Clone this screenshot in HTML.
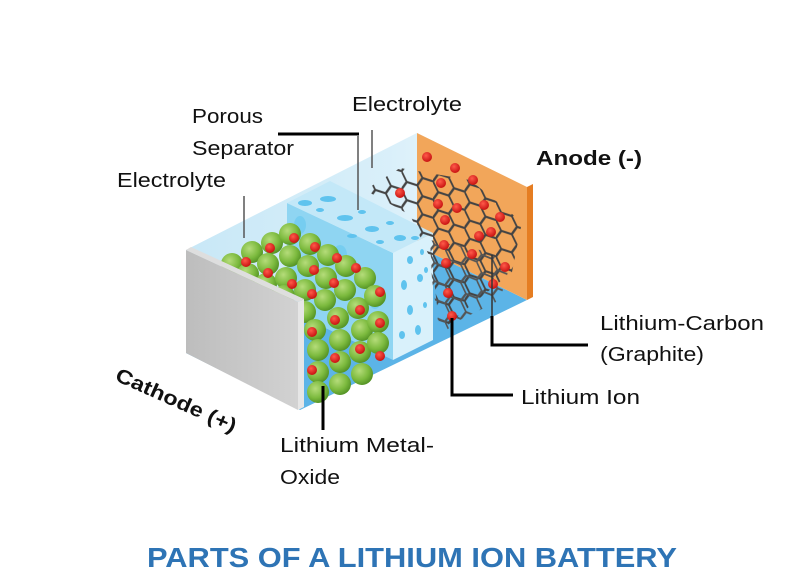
<!DOCTYPE html>
<html><head><meta charset="utf-8"><style>
html,body{margin:0;padding:0;background:#fff;}
svg{display:block;}
text{font-family:"Liberation Sans",sans-serif;fill:#111;}
</style></head><body>
<svg width="804" height="586" viewBox="0 0 804 586" xmlns="http://www.w3.org/2000/svg">
<defs>
<linearGradient id="top" x1="0" y1="0" x2="1" y2="0">
<stop offset="0" stop-color="#bfe4f5"/><stop offset="0.6" stop-color="#d6eef9"/><stop offset="1" stop-color="#ffffff"/></linearGradient>
<linearGradient id="cath" x1="0" y1="0" x2="1" y2="0">
<stop offset="0" stop-color="#bdbdbd"/><stop offset="1" stop-color="#d2d2d2"/></linearGradient>
<radialGradient id="ball" cx="0.38" cy="0.35" r="0.7">
<stop offset="0" stop-color="#b5dc7a"/><stop offset="0.6" stop-color="#7cba3e"/><stop offset="1" stop-color="#4f8e22"/></radialGradient>
<radialGradient id="red" cx="0.4" cy="0.35" r="0.7">
<stop offset="0" stop-color="#ff5a4a"/><stop offset="1" stop-color="#c40d0d"/></radialGradient>
<pattern id="hex" width="30" height="17.32" patternUnits="userSpaceOnUse" patternTransform="translate(370,170) skewY(18) scale(1.05)">
<path d="M0,8.66 L5,0 L15,0 L20,8.66 L15,17.32 L5,17.32 Z M20,8.66 L30,8.66" fill="none" stroke="#444" stroke-width="2"/>
</pattern>
<pattern id="hex2" width="30" height="17.32" patternUnits="userSpaceOnUse" patternTransform="translate(382,178) skewY(22) scale(1.05)">
<path d="M0,8.66 L5,0 L15,0 L20,8.66 L15,17.32 L5,17.32 Z M20,8.66 L30,8.66" fill="none" stroke="#555" stroke-width="1.8"/>
</pattern>
<clipPath id="hexclip"><polygon points="365,190 400,168 470,180 522,222 512,272 470,306 440,332 432,262 410,215"/></clipPath>
<clipPath id="hexclip2"><polygon points="430,240 480,250 510,265 500,300 460,320 440,335 432,280"/></clipPath>
</defs>

<polygon points="186,250 417,133 417,246 186,353" fill="#e3f3fb"/>
<polygon points="186,353 417,246 527,300 300,410" fill="#5cb4e7"/>
<polygon points="186,250 417,133 527,187 298,302" fill="url(#top)" opacity="0.75"/>
<polygon points="417,133 527,187 527,300 417,246" fill="#f2a65a"/>
<polygon points="527,187 533,184 533,297 527,300" fill="#e57d22"/>

<polygon points="287,203 393,253 393,360 287,310" fill="#8fd5f2"/>
<polygon points="287,203 330,181 433,233 393,253" fill="#c3e8f8"/>
<polygon points="393,253 433,233 433,340 393,360" fill="#d9f1fb"/>
<g fill="#5fc3ee">
<ellipse cx="305" cy="203" rx="7" ry="3"/><ellipse cx="328" cy="199" rx="8" ry="3"/><ellipse cx="320" cy="210" rx="4" ry="2"/>
<ellipse cx="345" cy="218" rx="8" ry="3"/><ellipse cx="362" cy="212" rx="4" ry="2"/><ellipse cx="372" cy="229" rx="7" ry="3"/>
<ellipse cx="390" cy="223" rx="4" ry="2"/><ellipse cx="400" cy="238" rx="6" ry="3"/><ellipse cx="380" cy="242" rx="4" ry="2"/>
<ellipse cx="415" cy="238" rx="4" ry="2"/><ellipse cx="352" cy="236" rx="5" ry="2"/>
<ellipse cx="410" cy="260" rx="3" ry="4"/><ellipse cx="422" cy="252" rx="2" ry="3"/><ellipse cx="404" cy="285" rx="3" ry="5"/>
<ellipse cx="420" cy="278" rx="3" ry="4"/><ellipse cx="410" cy="310" rx="3" ry="5"/><ellipse cx="425" cy="305" rx="2" ry="3"/>
<ellipse cx="402" cy="335" rx="3" ry="4"/><ellipse cx="418" cy="330" rx="3" ry="5"/><ellipse cx="426" cy="270" rx="2" ry="3"/>
</g>
<g fill="#6ccaf0" opacity="0.7">
<ellipse cx="300" cy="225" rx="6" ry="9"/><ellipse cx="340" cy="255" rx="7" ry="10"/><ellipse cx="375" cy="300" rx="6" ry="9"/>
</g>

<rect x="360" y="160" width="170" height="180" fill="url(#hex)" clip-path="url(#hexclip)"/>
<rect x="360" y="160" width="170" height="180" fill="url(#hex2)" clip-path="url(#hexclip2)"/>

<g fill="url(#ball)">
<circle cx="232" cy="264" r="11"/><circle cx="252" cy="252" r="11"/><circle cx="272" cy="243" r="11"/><circle cx="290" cy="234" r="11"/>
<circle cx="248" cy="274" r="11"/><circle cx="268" cy="264" r="11"/><circle cx="290" cy="256" r="11"/><circle cx="310" cy="244" r="11"/>
<circle cx="266" cy="284" r="11"/><circle cx="286" cy="278" r="11"/><circle cx="308" cy="266" r="11"/><circle cx="328" cy="255" r="11"/>
<circle cx="284" cy="296" r="11"/><circle cx="305" cy="290" r="11"/><circle cx="326" cy="278" r="11"/><circle cx="346" cy="266" r="11"/>
<circle cx="305" cy="312" r="11"/><circle cx="325" cy="300" r="11"/><circle cx="345" cy="290" r="11"/><circle cx="365" cy="278" r="11"/>
<circle cx="315" cy="330" r="11"/><circle cx="338" cy="318" r="11"/><circle cx="358" cy="308" r="11"/><circle cx="375" cy="296" r="11"/>
<circle cx="318" cy="350" r="11"/><circle cx="340" cy="340" r="11"/><circle cx="362" cy="330" r="11"/><circle cx="378" cy="322" r="11"/>
<circle cx="318" cy="372" r="11"/><circle cx="340" cy="362" r="11"/><circle cx="360" cy="352" r="11"/><circle cx="378" cy="343" r="11"/>
<circle cx="318" cy="392" r="11"/><circle cx="340" cy="384" r="11"/><circle cx="362" cy="374" r="11"/>
</g>
<g fill="url(#red)">
<circle cx="246" cy="262" r="5"/><circle cx="270" cy="248" r="5"/><circle cx="294" cy="238" r="5"/><circle cx="315" cy="247" r="5"/>
<circle cx="268" cy="273" r="5"/><circle cx="292" cy="284" r="5"/><circle cx="314" cy="270" r="5"/><circle cx="337" cy="258" r="5"/>
<circle cx="356" cy="268" r="5"/><circle cx="312" cy="294" r="5"/><circle cx="334" cy="283" r="5"/><circle cx="380" cy="292" r="5"/>
<circle cx="312" cy="332" r="5"/><circle cx="335" cy="320" r="5"/><circle cx="360" cy="310" r="5"/><circle cx="380" cy="323" r="5"/>
<circle cx="335" cy="358" r="5"/><circle cx="360" cy="349" r="5"/><circle cx="312" cy="370" r="5"/><circle cx="380" cy="356" r="5"/>
<circle cx="427" cy="157" r="5"/><circle cx="455" cy="168" r="5"/><circle cx="441" cy="183" r="5"/><circle cx="473" cy="180" r="5"/>
<circle cx="400" cy="193" r="5"/><circle cx="438" cy="204" r="5"/><circle cx="457" cy="208" r="5"/><circle cx="484" cy="205" r="5"/>
<circle cx="445" cy="220" r="5"/><circle cx="491" cy="232" r="5"/><circle cx="500" cy="217" r="5"/><circle cx="444" cy="245" r="5"/>
<circle cx="472" cy="254" r="5"/><circle cx="505" cy="267" r="5"/><circle cx="446" cy="263" r="5"/><circle cx="479" cy="236" r="5"/>
<circle cx="448" cy="293" r="5"/><circle cx="493" cy="284" r="5"/><circle cx="452" cy="316" r="5"/>
</g>

<polygon points="186,250 298,302 298,410 186,353" fill="url(#cath)"/>
<polygon points="186,250 191,247 304,299 298,302" fill="#dedede"/>
<polygon points="298,302 304,299 304,407 298,410" fill="#e6e6e6"/>

<line x1="278" y1="134" x2="359" y2="134" stroke="#000" stroke-width="3"/>
<line x1="358" y1="136" x2="358" y2="210" stroke="#555" stroke-width="1.5"/>
<line x1="372" y1="130" x2="372" y2="168" stroke="#555" stroke-width="1.5"/>
<line x1="244" y1="196" x2="244" y2="238" stroke="#555" stroke-width="1.5"/>
<line x1="492" y1="255" x2="492" y2="316" stroke="#333" stroke-width="1.5"/>
<polyline points="492,316 492,345 588,345" fill="none" stroke="#000" stroke-width="3"/>
<polyline points="452,318 452,395 513,395" fill="none" stroke="#000" stroke-width="3"/>
<line x1="323" y1="386" x2="323" y2="430" stroke="#000" stroke-width="3"/>

<text x="192" y="123" font-size="20" textLength="71" lengthAdjust="spacingAndGlyphs">Porous</text>
<text x="192" y="155" font-size="20" textLength="102" lengthAdjust="spacingAndGlyphs">Separator</text>
<text x="352" y="111" font-size="20" textLength="110" lengthAdjust="spacingAndGlyphs">Electrolyte</text>
<text x="117" y="187" font-size="20" textLength="109" lengthAdjust="spacingAndGlyphs">Electrolyte</text>
<text x="536" y="165" font-size="20" font-weight="bold" textLength="106" lengthAdjust="spacingAndGlyphs">Anode (-)</text>
<text x="600" y="330" font-size="20" textLength="164" lengthAdjust="spacingAndGlyphs">Lithium-Carbon</text>
<text x="600" y="361" font-size="20" textLength="104" lengthAdjust="spacingAndGlyphs">(Graphite)</text>
<text x="521" y="404" font-size="20" textLength="119" lengthAdjust="spacingAndGlyphs">Lithium Ion</text>
<text x="280" y="452" font-size="20" textLength="154" lengthAdjust="spacingAndGlyphs">Lithium Metal-</text>
<text x="280" y="484" font-size="20" textLength="60" lengthAdjust="spacingAndGlyphs">Oxide</text>
<text x="0" y="0" font-size="20" font-weight="bold" textLength="130" lengthAdjust="spacingAndGlyphs" transform="translate(114,380) rotate(24)">Cathode (+)</text>
<text x="412" y="567" font-size="28" font-weight="bold" text-anchor="middle" textLength="530" lengthAdjust="spacingAndGlyphs" style="fill:#2e74b5">PARTS OF A LITHIUM ION BATTERY</text>
</svg>
</body></html>
